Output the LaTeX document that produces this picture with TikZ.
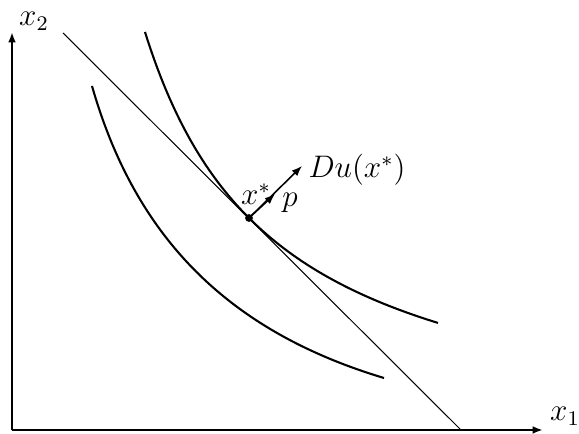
\documentclass[tikz,border=0pt]{standalone}
\usetikzlibrary{arrows.meta}
\begin{document}
\begin{tikzpicture}[x=0.385pt,y=0.385pt,
  axis/.style={line width=0.8pt,-{Latex[length=4pt,width=3pt]}},
  curve/.style={line width=0.8pt},
  budget/.style={line width=0.4pt},
  vec/.style={line width=0.6pt,-{Latex[length=4pt,width=3pt]}},
  lbl/.style={inner sep=0pt,font=\large}]
\useasboundingbox (0,0) rectangle (579,434);
\coordinate (O) at (12,4);
\coordinate (X) at (543,4);
\coordinate (Y) at (12,402);
\draw[axis] (O) -- (X);
\draw[axis] (O) -- (Y);
\node[lbl] (x1) at (565,18) {$x_1$};
\node[lbl] (x2) at (34,413) {$x_2$};
\coordinate (A) at (63,401);
\coordinate (B) at (461,4);
\draw[budget] (A) -- (B);
\draw[curve] plot[domain=145:438,samples=120] (\x,{-19.9+235.9*(235.9/(\x-13.1))});
\coordinate (L0) at (92,348);
\coordinate (L1) at (384,56);
\draw[curve] (L0) .. controls (135.5,195.7) and (229,102.5) .. (L1);
\node[circle,fill,inner sep=0pt,minimum size=3pt] (xs) at (249,216) {};
\coordinate (pt) at (275,240);
\coordinate (dt) at (302,268);
\draw[vec] (xs.center) -- (dt);
\draw[vec] (xs.center) -- (pt);
\node[lbl] (xl) at (256,240) {$x^*$};
\node[lbl] (pl) at (290,231) {$p$};
\node[lbl] (dl) at (357,264) {$Du(x^*)$};
\end{tikzpicture}
\end{document}
